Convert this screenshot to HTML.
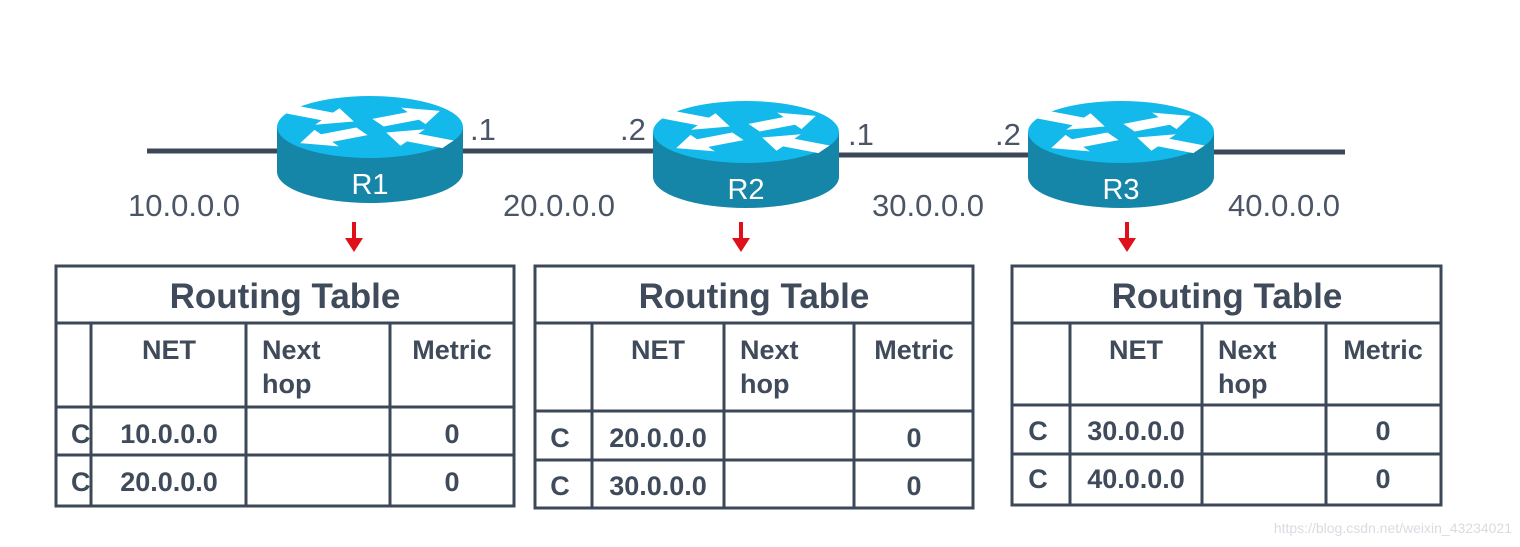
<!DOCTYPE html>
<html><head><meta charset="utf-8"><style>
html,body{margin:0;padding:0;background:#fff;}
svg{display:block;font-family:"Liberation Sans",Arial,sans-serif;}
.lbl{font-size:31px;fill:#4b5566;}
.th{font-size:35px;font-weight:bold;fill:#3f4a5a;}
.td{font-size:27px;font-weight:bold;fill:#3f4a5a;}
</style></head><body>
<svg width="1520" height="547" viewBox="0 0 1520 547">
<defs>
<polygon id="ar" points="0,-12 40,-12 40,-26 70,0 40,26 40,12 0,12" fill="#fff"/>
<g id="rt">
  <path d="M-93,0 L-93,45 A93,31 0 0 0 93,45 L93,0 Z" fill="#1585a8"/>
  <ellipse cx="0" cy="0" rx="93" ry="31" fill="#12b9ea"/>
  <g transform="scale(1,0.36)">
    <use href="#ar" transform="translate(-78,-48) rotate(28)"/>
    <use href="#ar" transform="translate(8,-12) rotate(-28)"/>
    <use href="#ar" transform="translate(-8,12) rotate(152)"/>
    <use href="#ar" transform="translate(78,48) rotate(208)"/>
  </g>
</g>
</defs>
<line x1="147" y1="151" x2="660" y2="151" stroke="#3c4858" stroke-width="5"/>
<line x1="830" y1="155" x2="1035" y2="155" stroke="#3c4858" stroke-width="5"/>
<line x1="1205" y1="152" x2="1345" y2="152" stroke="#3c4858" stroke-width="5"/>
<use href="#rt" x="370" y="127"/>
<use href="#rt" x="746" y="132"/>
<use href="#rt" x="1121" y="132"/>
<text x="370" y="194" text-anchor="middle" fill="#fff" font-size="29">R1</text>
<text x="746" y="199" text-anchor="middle" fill="#fff" font-size="29">R2</text>
<text x="1121" y="199" text-anchor="middle" fill="#fff" font-size="29">R3</text>
<text class="lbl" x="470" y="140">.1</text>
<text class="lbl" x="620" y="140">.2</text>
<text class="lbl" x="848" y="145">.1</text>
<text class="lbl" x="995" y="145">.2</text>
<text class="lbl" x="128" y="216">10.0.0.0</text>
<text class="lbl" x="503" y="216">20.0.0.0</text>
<text class="lbl" x="872" y="216">30.0.0.0</text>
<text class="lbl" x="1228" y="216">40.0.0.0</text>
<g fill="#e0101a">
<rect x="352" y="222" width="4" height="18"/><polygon points="345,238 363,238 354,252"/>
<rect x="739" y="222" width="4" height="18"/><polygon points="732,238 750,238 741,252"/>
<rect x="1125" y="222" width="4" height="18"/><polygon points="1118,238 1136,238 1127,252"/>
</g>
<g stroke="#3c4858" stroke-width="3" fill="none">
<rect x="56" y="266" width="458" height="240"/>
<line x1="56" y1="323" x2="514" y2="323"/><line x1="56" y1="407" x2="514" y2="407"/><line x1="56" y1="455" x2="514" y2="455"/>
<line x1="91" y1="323" x2="91" y2="506"/><line x1="246" y1="323" x2="246" y2="506"/><line x1="390" y1="323" x2="390" y2="506"/>
<rect x="535" y="266" width="438" height="242"/>
<line x1="535" y1="323" x2="973" y2="323"/><line x1="535" y1="411" x2="973" y2="411"/><line x1="535" y1="460" x2="973" y2="460"/>
<line x1="592" y1="323" x2="592" y2="508"/><line x1="724" y1="323" x2="724" y2="508"/><line x1="854" y1="323" x2="854" y2="508"/>
<rect x="1012" y="266" width="429" height="239"/>
<line x1="1012" y1="323" x2="1441" y2="323"/><line x1="1012" y1="405" x2="1441" y2="405"/><line x1="1012" y1="454" x2="1441" y2="454"/>
<line x1="1070" y1="323" x2="1070" y2="505"/><line x1="1202" y1="323" x2="1202" y2="505"/><line x1="1326" y1="323" x2="1326" y2="505"/>
</g>
<text class="th" x="285" y="308" text-anchor="middle">Routing Table</text>
<text class="th" x="754" y="308" text-anchor="middle">Routing Table</text>
<text class="th" x="1227" y="308" text-anchor="middle">Routing Table</text>

<text class="td" x="169" y="359" text-anchor="middle">NET</text>
<text class="td" x="262" y="359">Next</text><text class="td" x="262" y="393">hop</text>
<text class="td" x="452" y="359" text-anchor="middle">Metric</text>
<text class="td" x="71" y="443">C</text><text class="td" x="169" y="443" text-anchor="middle">10.0.0.0</text><text class="td" x="452" y="443" text-anchor="middle">0</text>
<text class="td" x="71" y="491">C</text><text class="td" x="169" y="491" text-anchor="middle">20.0.0.0</text><text class="td" x="452" y="491" text-anchor="middle">0</text>

<text class="td" x="658" y="359" text-anchor="middle">NET</text>
<text class="td" x="740" y="359">Next</text><text class="td" x="740" y="393">hop</text>
<text class="td" x="914" y="359" text-anchor="middle">Metric</text>
<text class="td" x="560" y="447" text-anchor="middle">C</text><text class="td" x="658" y="447" text-anchor="middle">20.0.0.0</text><text class="td" x="914" y="447" text-anchor="middle">0</text>
<text class="td" x="560" y="495" text-anchor="middle">C</text><text class="td" x="658" y="495" text-anchor="middle">30.0.0.0</text><text class="td" x="914" y="495" text-anchor="middle">0</text>

<text class="td" x="1136" y="359" text-anchor="middle">NET</text>
<text class="td" x="1218" y="359">Next</text><text class="td" x="1218" y="393">hop</text>
<text class="td" x="1383" y="359" text-anchor="middle">Metric</text>
<text class="td" x="1038" y="440" text-anchor="middle">C</text><text class="td" x="1136" y="440" text-anchor="middle">30.0.0.0</text><text class="td" x="1383" y="440" text-anchor="middle">0</text>
<text class="td" x="1038" y="488" text-anchor="middle">C</text><text class="td" x="1136" y="488" text-anchor="middle">40.0.0.0</text><text class="td" x="1383" y="488" text-anchor="middle">0</text>

<text x="1512" y="533" text-anchor="end" font-size="14" fill="#d8dce2">https://blog.csdn.net/weixin_43234021</text>
</svg>
</body></html>
